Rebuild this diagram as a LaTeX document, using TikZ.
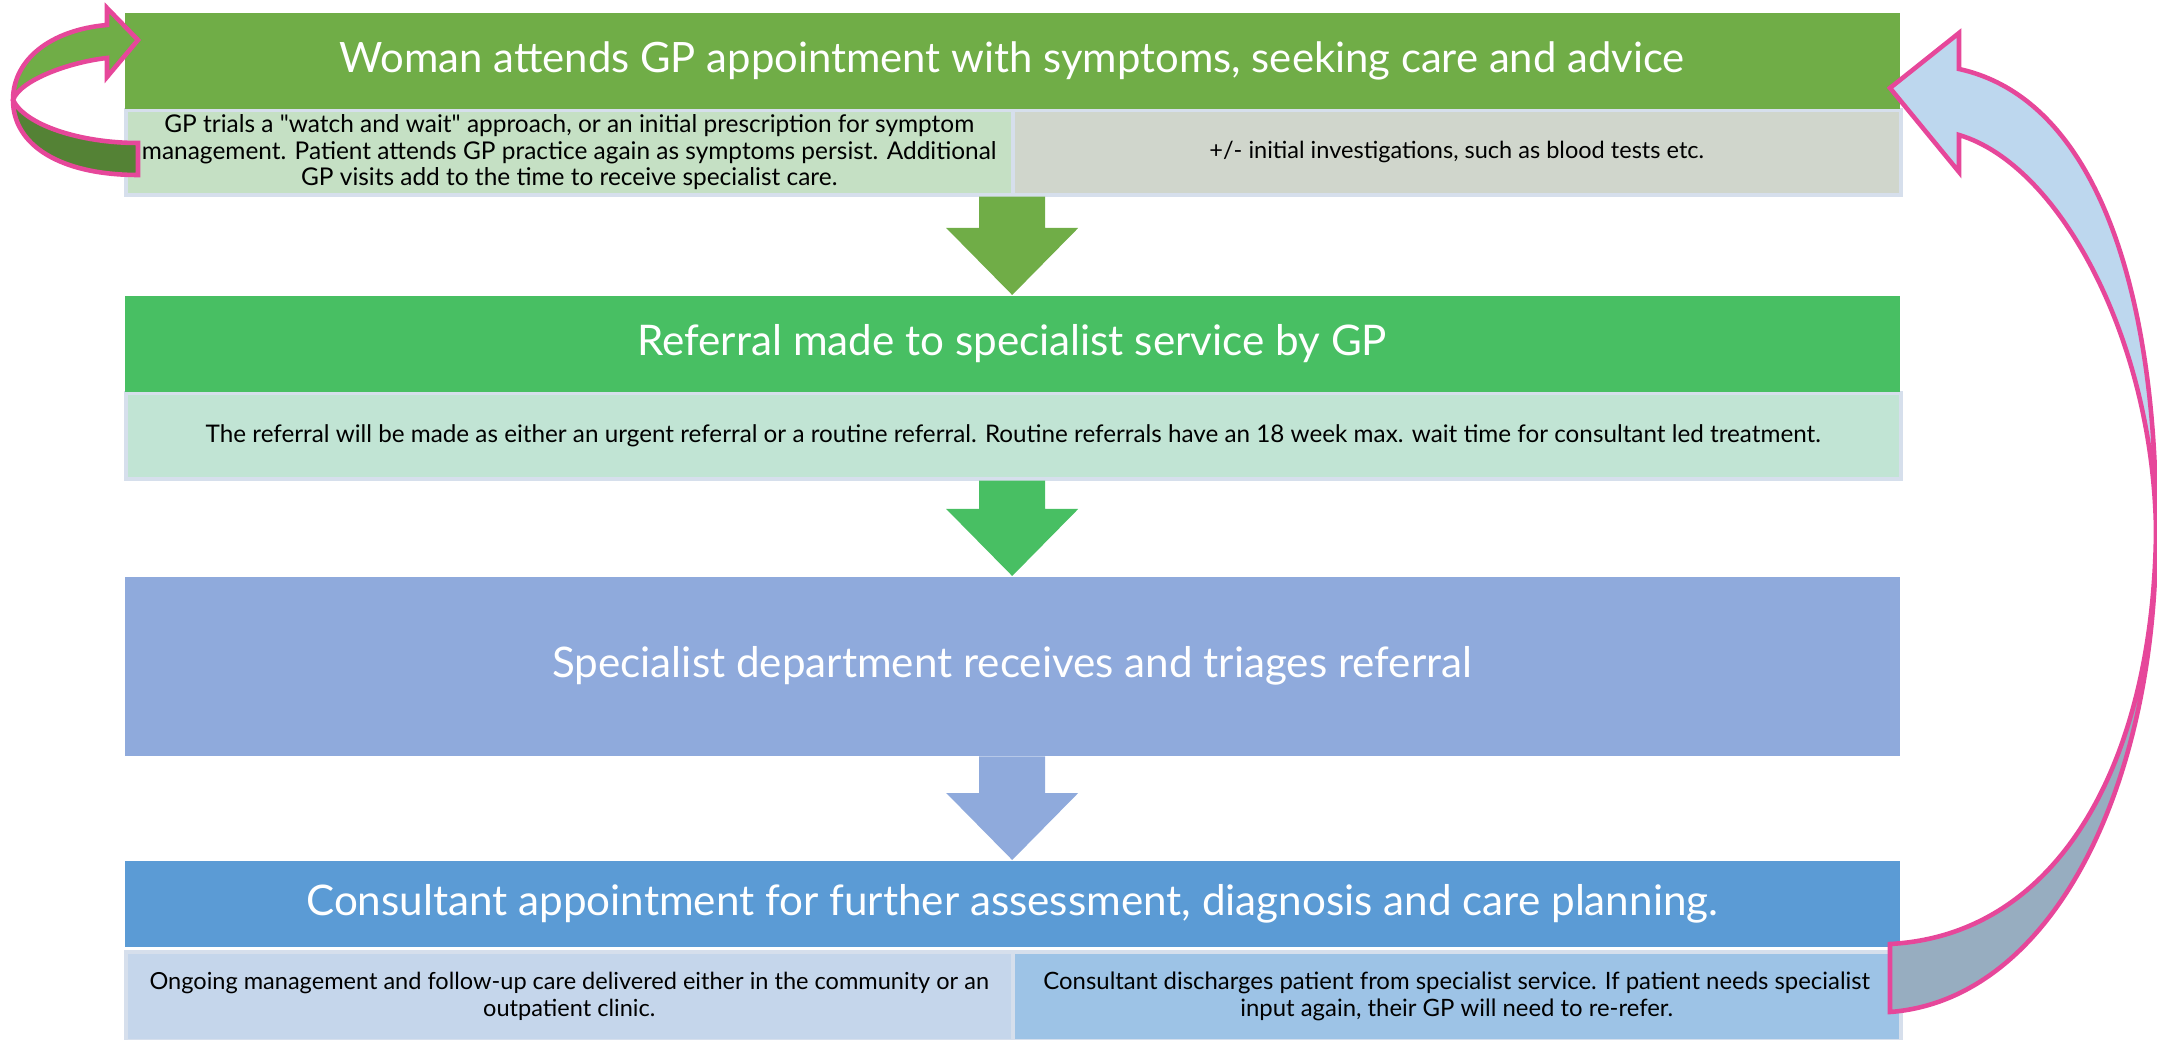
\documentclass[tikz,border=0pt]{standalone}
\usepackage{fontspec}
\setmainfont{Lato}
\usepackage{tikz}
\usetikzlibrary{calc}

\definecolor{gpgreen}{HTML}{70AD47}
\definecolor{gpdark}{HTML}{548235}
\definecolor{gpnote}{HTML}{C5E0C4}
\definecolor{invnote}{HTML}{D0D6CC}
\definecolor{refgreen}{HTML}{48BF63}
\definecolor{refnote}{HTML}{C1E4D4}
\definecolor{triage}{HTML}{8FAADC}
\definecolor{consult}{HTML}{5B9BD5}
\definecolor{ongoing}{HTML}{C5D6EB}
\definecolor{discharge}{HTML}{9DC3E6}
\definecolor{noteline}{HTML}{D6DFEC}
\definecolor{loopline}{HTML}{E6479A}
\definecolor{backlight}{HTML}{BDD7EE}
\definecolor{backdark}{HTML}{97ADC0}

\tikzset{
  stage/.style={rectangle, inner sep=0pt, anchor=north west, text=white,
    minimum width=17.75cm},
  note/.style={rectangle, inner sep=0pt, anchor=north west, text=black,
    draw=noteline, line width=1pt, align=center},
  loop/.style={draw=loopline, line width=1.3pt, line join=miter},
}

% block arrow pointing down, from #1 to the tip #2
\newcommand{\flowdown}[3]{%
  \fill[#3] ($(#1)+(-0.33,0)$) -- ($(#1)+(0.33,0)$) -- ($(#2)+(0.33,0.67)$)
    -- ($(#2)+(0.66,0.67)$) -- (#2) -- ($(#2)+(-0.66,0.67)$)
    -- ($(#2)+(-0.33,0.67)$) -- cycle;}

\begin{document}
\begin{tikzpicture}
    \useasboundingbox (0,0) rectangle (21.57,10.39);

    \node[note, fill=gpnote, minimum width=8.87cm, minimum height=0.85cm,
      font=\fontsize{6.95}{7.5}\selectfont] (gpnote) at (1.24,9.31)
      {GP trials a \textquotedbl watch and wait\textquotedbl{} approach, or an initial prescription for symptom\\
       management. Patient attends GP practice again as symptoms persist. Additional\\
       GP visits add to the time to receive specialist care.};
    \node[note, fill=invnote, minimum width=8.88cm, minimum height=0.85cm,
      font=\fontsize{6.7}{7.5}\selectfont] (invnote) at (10.11,9.31)
      {+/- initial investigations, such as blood tests etc.};
    \node[stage, fill=gpgreen, minimum height=0.96cm,
      font=\fontsize{11.9}{14}\selectfont] (gp) at (1.24,10.27)
      {Woman attends GP appointment with symptoms, seeking care and advice};

    \node[note, fill=refnote, minimum width=17.75cm, minimum height=0.86cm,
      font=\fontsize{6.9}{7.5}\selectfont] (refnote) at (1.24,6.48)
      {The referral will be made as either an urgent referral or a routine referral. Routine referrals have an 18 week max. wait time for consultant led treatment.};
    \node[stage, fill=refgreen, minimum height=0.96cm,
      font=\fontsize{12}{14}\selectfont] (referral) at (1.24,7.44)
      {Referral made to specialist service by GP};

    \node[stage, fill=triage, minimum height=1.79cm,
      font=\fontsize{12}{14}\selectfont] (triage) at (1.24,4.63)
      {Specialist department receives and triages referral};

    \node[note, fill=ongoing, minimum width=8.87cm, minimum height=0.89cm,
      font=\fontsize{6.7}{7.6}\selectfont] (ongoing) at (1.24,0.89)
      {Ongoing management and follow-up care delivered either in the community or an\\
       outpatient clinic.};
    \node[note, fill=discharge, minimum width=8.88cm, minimum height=0.89cm,
      font=\fontsize{6.8}{7.6}\selectfont] (discharge) at (10.11,0.89)
      {Consultant discharges patient from specialist service. If patient needs specialist\\
       input again, their GP will need to re-refer.};
    \node[stage, fill=consult, minimum height=0.86cm,
      font=\fontsize{12}{14}\selectfont] (consult) at (1.24,1.79)
      {Consultant appointment for further assessment, diagnosis and care planning.};

    \flowdown{referral.north |- gpnote.south}{referral.north}{gpgreen}
    \flowdown{triage.north |- refnote.south}{triage.north}{refgreen}
    \flowdown{triage.south}{consult.north}{triage}

    % GP revisits loop
    \fill[gpgreen] (1.07,10.14) .. controls (0.50,10.09) and (0.13,9.79) .. (0.13,9.39)
      .. controls (0.20,9.59) and (0.70,9.77) .. (1.07,9.81) -- (1.07,9.62) -- (1.38,9.99)
      -- (1.07,10.31) -- cycle;
    \fill[gpdark] (0.13,9.39) .. controls (0.13,8.94) and (0.60,8.64) .. (1.38,8.64)
      -- (1.38,8.96) .. controls (0.80,8.96) and (0.25,9.14) .. (0.13,9.39) -- cycle;
    \draw[loop] (1.38,8.96) -- (1.38,8.64) .. controls (0.60,8.64) and (0.13,8.94) .. (0.13,9.39)
      .. controls (0.13,9.79) and (0.50,10.09) .. (1.07,10.14) -- (1.07,10.31) -- (1.38,9.99)
      -- (1.07,9.62) -- (1.07,9.81) .. controls (0.70,9.77) and (0.20,9.59) .. (0.13,9.39)
      .. controls (0.25,9.14) and (0.80,8.96) .. cycle;

    % re-referral loop back to the GP
    \fill[backlight] (19.59,9.70) .. controls (21.00,9.39) and (21.57,7.39) .. (21.56,5.09)
      .. controls (21.53,6.99) and (20.60,8.74) .. (19.59,9.04) -- (19.59,8.67) -- (18.90,9.51)
      -- (19.59,10.06) -- cycle;
    \fill[backdark] (21.56,5.09) .. controls (21.57,2.49) and (20.50,0.39) .. (18.90,0.27)
      -- (18.90,0.95) .. controls (20.60,1.04) and (21.54,2.79) .. (21.56,5.09) -- cycle;
    \draw[loop] (18.90,0.95) -- (18.90,0.27) .. controls (20.50,0.39) and (21.57,2.49) .. (21.56,5.09)
      .. controls (21.57,7.39) and (21.00,9.39) .. (19.59,9.70) -- (19.59,10.06) -- (18.90,9.51)
      -- (19.59,8.67) -- (19.59,9.04) .. controls (20.60,8.74) and (21.53,6.99) .. (21.56,5.09)
      .. controls (21.54,2.79) and (20.60,1.04) .. cycle;
\end{tikzpicture}
\end{document}
